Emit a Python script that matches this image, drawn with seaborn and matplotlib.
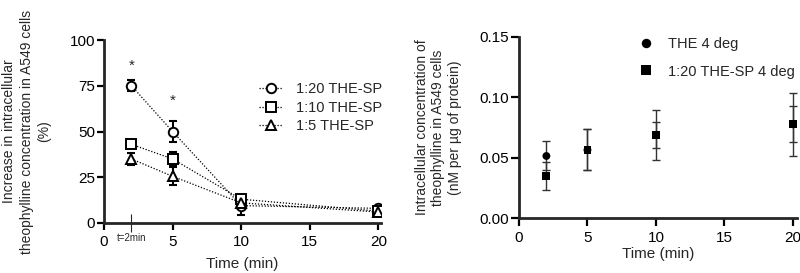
"""Theophylline uptake in A549 cells: THE-SP ratios and 4 degree controls."""

import matplotlib
matplotlib.use("Agg")
import matplotlib.pyplot as plt
import pandas as pd
import seaborn as sns

# left panel: increase in intracellular theophylline (%)
TIMES = [2, 5, 10, 20]
GROUPS = ["1:20 THE-SP", "1:10 THE-SP", "1:5 THE-SP"]
MEAN_1_20 = [75, 50, 9.5, 8]
SD_1_20 = [3, 6, 5, 1]
MEAN_1_10 = [43, 35, 13, 6.5]
SD_1_10 = [2, 4, 2, 1]
MEAN_1_5 = [35, 25.5, 11, 6]
SD_1_5 = [3.5, 5, 3, 1]
STAR_TIMES = [2, 5]
STAR_Y = [86, 67]

# right panel: intracellular concentration at 4 deg (nM per ug protein)
COLD_GROUPS = ["THE 4 deg", "1:20 THE-SP 4 deg"]
THE_COLD = [0.0514, 0.0564, 0.0688, 0.0777]
THE_COLD_SD = [0.012, 0.017, 0.0108, 0.015]
SP_COLD = [0.0348, 0.0564, 0.0688, 0.0777]
SP_COLD_SD = [0.012, 0.017, 0.021, 0.026]

W, H = 800, 273


def style_axis(ax, tick_len):
    sns.despine(ax=ax)
    for side in ("left", "bottom"):
        ax.spines[side].set_linewidth(2.0)
    ax.tick_params(axis="both", which="major", width=1.6, length=tick_len,
                   labelsize=11, color="black", labelcolor="black")
    ax.tick_params(axis="y", which="major", pad=1.5)


def main():
    sns.set_style("ticks")
    plt.rcParams["font.family"] = ["Liberation Sans", "DejaVu Sans"]

    fig = plt.figure(figsize=(W / 100, H / 100), dpi=100)

    # ---- left panel
    ax = fig.add_axes([104 / W, (H - 223) / H, 277 / W, 183 / H])
    means = [MEAN_1_20, MEAN_1_10, MEAN_1_5]
    sds = [SD_1_20, SD_1_10, SD_1_5]
    df = pd.DataFrame({
        "time": TIMES * 3,
        "value": sum(means, []),
        "group": [g for g in GROUPS for _ in TIMES],
    })
    for m, s in zip(means, sds):
        ax.errorbar(TIMES, m, yerr=s, fmt="none", ecolor="black",
                    elinewidth=1.5, capsize=3, capthick=1.5, zorder=2)
    sns.lineplot(data=df, x="time", y="value", hue="group", style="group",
                 palette=["black"] * 3, markers=["o", "s", "^"],
                 dashes=[(1, 1.4)] * 3, markerfacecolor="white",
                 markeredgecolor="black", markeredgewidth=1.4, markersize=6.8,
                 linewidth=0.9, errorbar=None, ax=ax, zorder=3)
    for t, y in zip(STAR_TIMES, STAR_Y):
        ax.text(t, y, "*", ha="center", va="center", fontsize=11)
    ax.set_xlim(0, 20.2)
    ax.set_ylim(0, 100)
    ax.set_xticks([0, 5, 10, 15, 20])
    ax.set_yticks([0, 25, 50, 75, 100])
    ax.set_xticks([2], labels=["t=2min"], minor=True)
    style_axis(ax, 5)
    ax.tick_params(axis="x", which="minor", direction="inout", length=13,
                   width=0.8, labelsize=7, pad=1)
    ax.set_xlabel("Time (min)", fontsize=11)
    ax.xaxis.set_label_coords(0.5, -0.185)
    ax.xaxis.label.set_va("top")
    ax.set_ylabel("Increase in intracellular\n"
                  "theophylline concentration in A549 cells\n(%)",
                  fontsize=10, linespacing=1.35)
    ax.yaxis.set_label_coords(-0.19, 0.5)
    ax.legend(loc="upper left", bbox_to_anchor=(0.54, 0.80), frameon=False,
              fontsize=10.5, handlelength=1.6, handletextpad=0.9,
              labelspacing=0.3, borderaxespad=0)

    # ---- right panel
    ax2 = fig.add_axes([519 / W, (H - 218) / H, 278 / W, 181 / H])
    df2 = pd.DataFrame({
        "time": TIMES * 2,
        "value": THE_COLD + SP_COLD,
        "group": [g for g in COLD_GROUPS for _ in TIMES],
    })
    for m, s in ((THE_COLD, THE_COLD_SD), (SP_COLD, SP_COLD_SD)):
        ax2.errorbar(TIMES, m, yerr=s, fmt="none", ecolor="#333333",
                     elinewidth=1.0, capsize=2.7, capthick=1.0, zorder=2)
    sns.scatterplot(data=df2, x="time", y="value", style="group",
                    markers=["o", "s"], color="black", s=32, linewidth=0,
                    ax=ax2, zorder=3)
    ax2.set_xlim(0, 20.3)
    ax2.set_ylim(0, 0.15)
    ax2.set_xticks([0, 5, 10, 15, 20])
    ax2.set_yticks([0, 0.05, 0.10, 0.15])
    ax2.yaxis.set_major_formatter(matplotlib.ticker.FormatStrFormatter("%.2f"))
    style_axis(ax2, 6)
    ax2.set_xlabel("Time (min)", fontsize=11)
    ax2.xaxis.set_label_coords(0.5, -0.16)
    ax2.xaxis.label.set_va("top")
    ax2.set_ylabel("Intracellular concentration of\n"
                   "theophylline in A549 cells\n(nM per µg of protein)",
                   fontsize=10, linespacing=1.25)
    ax2.yaxis.set_label_coords(-0.205, 0.5)
    ax2.legend(loc="upper left", bbox_to_anchor=(0.385, 1.03), frameon=False,
               fontsize=10.5, handletextpad=0.5, labelspacing=0.9,
               borderaxespad=0, markerscale=1.2)

    fig.savefig("out.png", dpi=100)


if __name__ == "__main__":
    main()
